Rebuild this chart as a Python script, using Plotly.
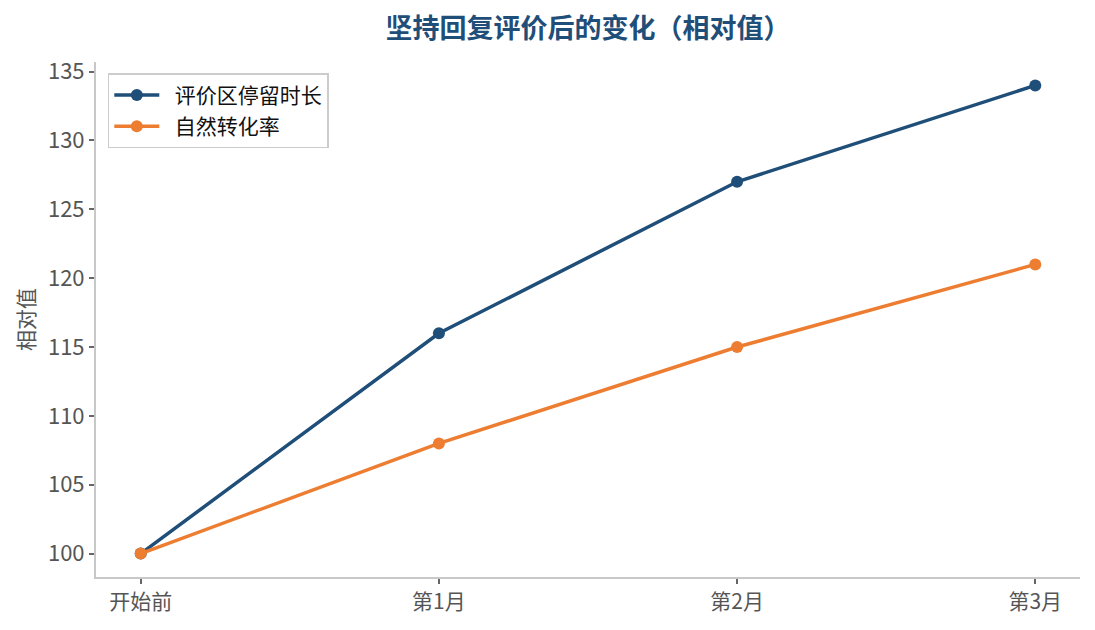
import plotly.graph_objects as go

# data
stages = ["开始前", "第1月", "第2月", "第3月"]
dwell_time = [100, 116, 127, 134]
conversion = [100, 108, 115, 121]

blue = "#1f4e79"
orange = "#ed7d31"
font_cjk = "Noto Sans CJK SC, Noto Sans, sans-serif"

fig = go.Figure()
fig.add_trace(go.Scatter(x=list(range(len(stages))), y=dwell_time, mode="lines+markers",
                         name="\u2002评价区停留时长", legendgroup="a", line=dict(color=blue, width=3.5),
                         marker=dict(color=blue, size=12)))
fig.add_trace(go.Scatter(x=list(range(len(stages))), y=conversion, mode="lines+markers",
                         name="\u2002自然转化率", legendgroup="b", line=dict(color=orange, width=3.5),
                         marker=dict(color=orange, size=12)))

fig.update_layout(
    width=1095, height=630,
    margin=dict(l=96, r=15, t=62, b=53),
    paper_bgcolor="white", plot_bgcolor="white",
    font=dict(family=font_cjk, color="#555555", size=20),
    title=dict(text="<b>坚持回复评价后的变化（相对值）</b>", xref="paper", x=0.5, xanchor="center",
               y=0.955, yanchor="middle", font=dict(size=27, color=blue)),
    legend=dict(x=0.012, y=0.978, xanchor="left", yanchor="top",
                bordercolor="#cccccc", borderwidth=1.5, bgcolor="rgba(255,255,255,0.9)",
                font=dict(size=21, color="#111111"), tracegroupgap=1, itemwidth=45),
    showlegend=True,
)
fig.update_xaxes(range=[-0.15, 3.15], tickvals=list(range(len(stages))), ticktext=stages,
                 showgrid=False, zeroline=False, showline=True, linecolor="#c8c8c8", linewidth=2,
                 ticks="outside", tickcolor="#666666", ticklen=5, tickwidth=1.5,
                 tickfont=dict(size=21, color="#555555"))
fig.update_yaxes(range=[98.3, 135.7], tickvals=[100, 105, 110, 115, 120, 125, 130, 135],
                 showgrid=False, zeroline=False, showline=True, linecolor="#c8c8c8", linewidth=2,
                 ticks="outside", tickcolor="#666666", ticklen=5, tickwidth=1.5,
                 tickfont=dict(size=22, color="#555555"),
                 title=dict(text="相对值", font=dict(size=21, color="#555555"), standoff=8))

fig.write_html("out.html", config={"displayModeBar": False},
               post_script="document.body.style.margin='0';")
